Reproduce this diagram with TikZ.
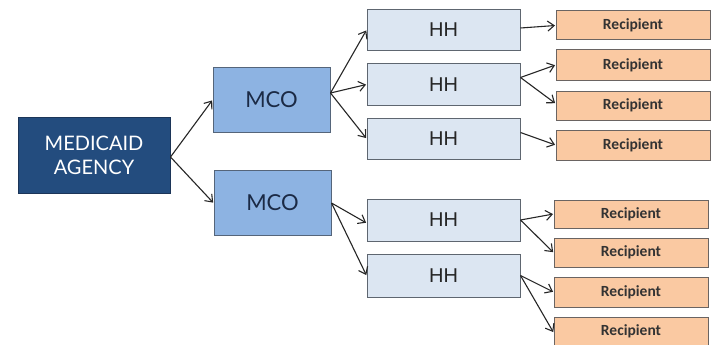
\documentclass[tikz,border=0pt]{standalone}
\usepackage{fontspec}
\setmainfont{Lato}
\newfontfamily\hhfont{Liberation Sans}
\newfontfamily\recfont{Carlito}
\usetikzlibrary{arrows.meta}
\definecolor{agencyfill}{HTML}{234C7E}
\definecolor{agencyline}{HTML}{1C3558}
\definecolor{mcofill}{HTML}{8DB3E2}
\definecolor{mcoline}{HTML}{55657A}
\definecolor{mcotext}{HTML}{1B2A45}
\definecolor{hhfill}{HTML}{DCE6F2}
\definecolor{hhline}{HTML}{5E6670}
\definecolor{recfill}{HTML}{FAC9A2}
\definecolor{recline}{HTML}{6A6462}
\tikzset{
  agencybox/.style={draw=agencyline, fill=agencyfill, line width=1pt, minimum width=152pt, minimum height=76pt, inner sep=0pt, align=center, text=white, font=\fontsize{20}{24}\selectfont},
  mcobox/.style={draw=mcoline, fill=mcofill, line width=1pt, minimum width=117pt, minimum height=65pt, inner sep=0pt, text=mcotext, font=\fontsize{22}{25}\selectfont},
  hhbox/.style={draw=hhline, fill=hhfill, line width=1pt, minimum width=153pt, minimum height=41pt, inner sep=0pt, text=black!85, font=\hhfont\fontsize{20}{23}\selectfont},
  recbox/.style={draw=recline, fill=recfill, line width=1pt, minimum width=154pt, minimum height=29pt, inner sep=0pt, text=black!80, font=\recfont\bfseries\fontsize{15.5}{18}\selectfont},
  link/.style={line width=1.1pt, black!85, -{Straight Barb[length=6.5pt,width=10pt,line width=1.1pt]}, shorten >=0.5pt}
}
\begin{document}
\begin{tikzpicture}[x=1pt,y=-1pt]
\useasboundingbox (0,0) rectangle (717,345);
\fill[white] (0,0) rectangle (717,345);
\node[agencybox] (ag) at (94,155) {MEDICAID\\AGENCY};
\node[mcobox] (m1) at (271.5,100) {MCO};
\node[mcobox] (m2) at (272.5,203) {MCO};
\node[hhbox] (h1) at (443.5,30) {HH};
\node[hhbox] (h2) at (443.5,84.5) {HH};
\node[hhbox] (h3) at (443.5,138.5) {HH};
\node[hhbox, minimum height=42pt] (h4) at (443.5,220) {HH};
\node[hhbox, minimum height=43pt] (h5) at (443.5,275.5) {HH};
\node[recbox] (r1) at (633,25.5) {Recipient};
\node[recbox, minimum height=30pt] (r2) at (633,65) {Recipient};
\node[recbox] (r3) at (633,105.5) {Recipient};
\node[recbox, minimum height=30pt] (r4) at (633,145) {Recipient};
\node[recbox, minimum height=28pt] (r5) at (631,214) {Recipient};
\node[recbox] (r6) at (631,252.5) {Recipient};
\node[recbox, minimum height=30pt] (r7) at (631,292) {Recipient};
\node[recbox] (r8) at (631,331.5) {Recipient};
\draw[link] ([yshift=-2pt]ag.east) -- (m1.west);
\draw[link] ([yshift=-2pt]ag.east) -- (m2.west);
\draw[link] ([yshift=7pt]m1.east) -- (h1.west);
\draw[link] ([yshift=7pt]m1.east) -- (h2.west);
\draw[link] ([yshift=7pt]m1.east) -- (h3.west);
\draw[link] (m2.east) -- ([yshift=-3pt]h4.west);
\draw[link] (m2.east) -- (h5.west);
\draw[link] ([yshift=2pt]h1.east) -- (r1.west);
\draw[link] ([yshift=7pt]h2.east) -- (r2.west);
\draw[link] ([yshift=7pt]h2.east) -- ([yshift=2pt]r3.west);
\draw[link] ([yshift=6pt]h3.east) -- (r4.west);
\draw[link] (h4.east) -- (r5.west);
\draw[link] (h4.east) -- (r6.west);
\draw[link] (h5.east) -- (r7.west);
\draw[link] (h5.east) -- ([yshift=-1pt]r8.west);
\end{tikzpicture}
\end{document}
